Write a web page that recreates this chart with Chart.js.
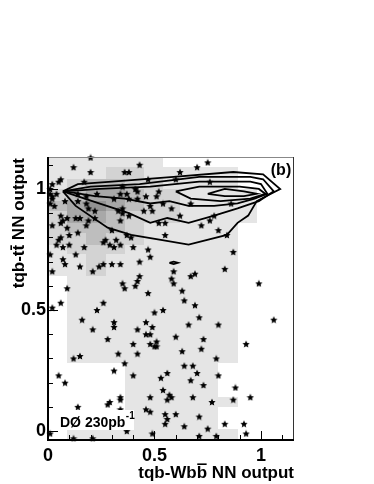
<!DOCTYPE html>
<html>
<head>
<meta charset="utf-8">
<script src="https://cdn.jsdelivr.net/npm/chart.js@4.4.1/dist/chart.umd.min.js"></script>
<style>
  html, body { margin: 0; padding: 0; background: #fff; }
</style>
</head>
<body>
<canvas id="nnChart" width="374" height="484"></canvas>
<script>
// axis ticks
const xMajor = [0, 0.5, 1];
const xTickLabels = ['0', '0.5', '1'];
const yMajor = [0, 0.5, 1];
const yTickLabels = ['0', '0.5', '1'];
const xMinor = [0, 0.1, 0.2, 0.3, 0.4, 0.5, 0.6, 0.7, 0.8, 0.9, 1.0, 1.1];
const yMinor = [0, 0.1, 0.2, 0.3, 0.4, 0.5, 0.6, 0.7, 0.8, 0.9, 1.0, 1.1];

// tqb box histogram (rows listed top to bottom)
const xEdges = [0, 0.09, 0.18, 0.27, 0.36, 0.45, 0.54, 0.62, 0.71, 0.80, 0.89, 0.98, 1.07, 1.16];
const yEdges = [-0.04, 0.01, 0.05, 0.10, 0.14, 0.19, 0.23, 0.28, 0.32, 0.37, 0.41, 0.46, 0.50, 0.55,
  0.59, 0.64, 0.68, 0.73, 0.77, 0.82, 0.86, 0.91, 0.95, 1.00, 1.04, 1.09, 1.13];
const shade = [
  [1,1,1,1,1,1,0,0,0,0,0,0,0],
  [1,1,1,2,2,1,1,1,1,1,0,0,0],
  [1,2,3,3,2,2,1,1,1,1,0,0,0],
  [2,3,4,4,3,2,2,1,1,1,1,0,0],
  [3,4,5,4,3,2,2,1,1,1,1,0,0],
  [2,4,4,3,2,2,2,1,1,1,1,0,0],
  [2,3,3,3,2,1,1,1,1,1,0,0,0],
  [2,2,3,2,2,1,1,1,1,1,0,0,0],
  [1,2,2,2,1,1,1,1,1,1,0,0,0],
  [1,1,2,1,1,1,1,1,1,1,0,0,0],
  [1,1,2,1,1,1,1,1,1,1,0,0,0],
  [0,1,1,1,1,1,1,1,1,1,0,0,0],
  [0,1,1,1,1,1,1,1,1,1,0,0,0],
  [0,1,1,1,1,1,1,1,1,1,0,0,0],
  [0,1,1,1,1,1,1,1,1,1,0,0,0],
  [0,1,1,1,1,1,1,1,1,1,0,0,0],
  [0,1,1,1,1,1,1,1,1,1,0,0,0],
  [0,1,1,1,1,1,1,1,1,1,0,0,0],
  [0,1,1,1,1,1,1,1,1,1,0,0,0],
  [0,0,0,0,1,1,1,1,1,0,0,0,0],
  [0,0,0,0,1,1,1,1,1,0,0,0,0],
  [0,0,0,0,1,1,1,1,1,0,0,0,0],
  [0,0,0,0,1,1,1,1,1,1,0,0,0],
  [0,0,0,0,1,1,1,1,1,0,0,0,0],
  [0,0,0,0,1,1,1,1,1,0,0,0,0],
  [0,1,1,1,1,1,1,1,1,1,0,0,0],
];
const shadeColors = [null, '#e5e5e5', '#d3d3d3', '#bebebe', '#a8a8a8', '#929292'];

// tt contours
const c1X = [0.07,0.14,0.30,0.59,0.87,1.01,1.09,0.98,0.94,0.89,0.84,0.66,0.53,0.39,0.28,0.13];
const c1Y = [0.99,1.02,1.03,1.05,1.07,1.06,1.00,0.95,0.89,0.86,0.81,0.77,0.79,0.81,0.84,0.93];
const c2X = [0.07,0.20,0.43,0.71,0.95,1.01,1.06,0.99,0.89,0.78,0.66,0.56,0.48,0.38,0.24];
const c2Y = [0.99,1.01,1.02,1.05,1.05,1.04,0.99,0.95,0.92,0.89,0.86,0.88,0.86,0.90,0.94];
const c3X = [0.08,0.24,0.48,0.71,0.95,1.00,1.03,0.97,0.89,0.78,0.66,0.57,0.48,0.36,0.22];
const c3Y = [0.99,1.00,1.01,1.03,1.03,1.02,0.98,0.96,0.94,0.93,0.93,0.95,0.94,0.96,0.97];
const c4X = [0.60,0.71,0.90,0.99,1.02,0.95,0.81,0.67];
const c4Y = [0.99,1.01,1.01,1.00,0.98,0.96,0.95,0.96];
const c5X = [0.75,0.83,0.92,0.98,0.92,0.83];
const c5Y = [0.98,1.00,0.99,0.98,0.97,0.97];
const c6X = [0.57,0.59,0.61,0.59];
const c6Y = [0.695,0.70,0.695,0.69];

// data events
const starX = [0.20,0.12,0.20,0.43,0.36,0.38,0.47,0.62,0.70,0.75,0.60,0.76,0.06,0.05,0.17,0.02,0.01,0.01,0.02,0.04,
  0.02,0.01,0.03,0.14,0.18,0.23,0.08,0.14,0.18,0.19,0.22,0.06,0.09,0.13,0.15,0.19,0.22,0.02,0.06,0.07,
  0.09,0.14,0.18,0.10,0.06,0.05,0.04,0.07,0.10,0.17,0.26,0.27,0.01,0.13,0.07,0.08,0.15,0.24,0.26,0.21,0.02,0.09,
  0.35,0.41,0.42,0.31,0.34,0.37,0.38,0.42,0.46,0.52,0.51,0.33,0.35,0.35,0.38,0.45,0.48,0.49,0.54,0.58,
  0.34,0.52,0.55,0.30,0.37,0.55,0.29,0.31,0.32,0.34,0.40,0.39,0.47,0.48,0.30,0.34,0.43,0.59,0.58,0.59,
  0.43,0.42,0.41,0.35,0.36,0.47,
  0.67,0.86,0.78,0.62,0.76,0.72,0.80,0.84,0.87,0.67,0.69,0.83,0.63,0.99,
  0.02,0.06,0.16,0.23,0.26,0.21,0.28,0.12,0.15,0.05,0.08,0.14,0.11,0.28,0.29,0.01,0.12,0.21,
  0.50,0.54,0.31,0.31,0.42,0.46,0.49,0.46,0.48,0.40,0.48,0.51,0.50,0.51,0.33,0.42,0.36,0.31,0.40,0.53,
  0.56,0.54,0.57,0.56,0.58,0.34,0.34,0.48,0.34,0.46,0.48,0.55,0.56,0.55,0.37,0.49,
  0.64,0.69,0.71,0.66,0.80,0.60,0.73,0.72,0.63,0.79,0.64,0.68,0.70,0.67,0.80,0.73,0.88,
  0.68,0.77,0.87,0.60,0.71,0.83,0.64,0.75,0.71,0.79,1.06,0.93,0.95,0.92,0.93];
const starY = [1.13,1.09,1.07,1.10,1.07,1.07,1.04,1.07,1.09,1.11,1.04,1.03,1.04,1.03,1.03,1.02,1.00,0.98,0.97,0.98,
  0.96,0.94,0.93,0.98,0.97,0.98,0.95,0.95,0.94,0.92,0.91,0.89,0.88,0.88,0.88,0.87,0.88,0.85,0.86,0.87,
  0.84,0.82,0.85,0.81,0.80,0.79,0.77,0.76,0.77,0.76,0.78,0.79,0.73,0.73,0.71,0.69,0.68,0.68,0.69,0.66,0.66,0.59,
  1.01,1.00,0.99,0.96,0.98,0.98,0.96,0.96,0.97,0.99,0.97,0.91,0.92,0.90,0.89,0.91,0.93,0.91,0.94,0.92,
  0.87,0.86,0.86,0.83,0.81,0.81,0.77,0.76,0.79,0.77,0.76,0.80,0.75,0.72,0.69,0.69,0.70,0.66,0.63,0.61,
  0.64,0.62,0.60,0.61,0.59,0.57,
  0.94,0.94,0.89,0.89,0.87,0.85,0.83,0.81,0.74,0.64,0.65,0.67,0.58,0.61,
  0.51,0.53,0.46,0.50,0.53,0.42,0.38,0.30,0.31,0.23,0.20,0.10,0.07,0.11,0.12,-0.01,-0.03,-0.03,
  0.49,0.50,0.45,0.43,0.42,0.45,0.43,0.40,0.40,0.36,0.36,0.37,0.35,0.35,0.32,0.32,0.28,0.25,0.23,0.22,
  0.24,0.17,0.15,0.13,0.14,0.14,0.13,0.14,0.09,0.09,0.08,0.07,0.05,0.03,0.00,-0.01,
  0.54,0.52,0.47,0.44,0.44,0.39,0.38,0.34,0.33,0.30,0.27,0.27,0.24,0.21,0.23,0.19,0.18,
  0.14,0.12,0.13,0.07,0.06,0.03,0.02,0.01,-0.02,-0.02,0.46,0.36,0.14,0.03,-0.01];

const FONT = '"Liberation Sans", Arial, Helvetica, sans-serif';

function makeStar(size) {
  const c = document.createElement('canvas');
  c.width = c.height = size;
  const g = c.getContext('2d');
  const r = size / 2, ri = r * 0.45;
  g.beginPath();
  for (let k = 0; k < 10; k++) {
    const rad = k % 2 ? ri : r - 0.2;
    const ang = -Math.PI / 2 + k * Math.PI / 5;
    g.lineTo(r + rad * Math.cos(ang), r + 0.4 + rad * Math.sin(ang));
  }
  g.closePath();
  g.fillStyle = '#000';
  g.fill();
  return c;
}

const closed = (xs, ys) => xs.concat(xs[0]).map((x, i) => ({ x, y: ys.concat(ys[0])[i] }));
const contour = (xs, ys) => ({
  data: closed(xs, ys), showLine: true, pointRadius: 0, borderColor: '#000',
  borderWidth: 1.8, fill: false, tension: 0,
});
const tickLabel = (v, major, labels) => {
  const k = major.findIndex(m => Math.abs(m - v) < 1e-6);
  return k < 0 ? '' : labels[k];
};

// text with an overbar on one letter
function barredText(ctx, pre, letter, post, x, y, align) {
  const wPre = ctx.measureText(pre).width, wL = ctx.measureText(letter).width;
  const total = wPre + wL + ctx.measureText(post).width;
  const x0 = align === 'right' ? x - total : x;
  ctx.textAlign = 'left';
  ctx.fillText(pre + letter + post, x0, y);
  const asc = ctx.measureText(letter).actualBoundingBoxAscent;
  ctx.lineWidth = 1.6;
  ctx.beginPath();
  ctx.moveTo(x0 + wPre + 0.5, y - asc - 1.8);
  ctx.lineTo(x0 + wPre + wL - 0.5, y - asc - 1.8);
  ctx.stroke();
}

const decor = {
  id: 'decor',
  beforeDatasetsDraw(chart) {
    const { ctx, chartArea: a, scales: { x, y } } = chart;
    ctx.save();
    ctx.beginPath();
    ctx.rect(a.left, a.top, a.right - a.left, a.bottom - a.top);
    ctx.clip();
    shade.forEach((row, r) => {
      const j = shade.length - 1 - r;
      row.forEach((lvl, i) => {
        if (!lvl) return;
        const x0 = Math.round(x.getPixelForValue(xEdges[i])), x1 = Math.round(x.getPixelForValue(xEdges[i + 1]));
        const y0 = Math.round(y.getPixelForValue(yEdges[j + 1])), y1 = Math.round(y.getPixelForValue(yEdges[j]));
        ctx.fillStyle = shadeColors[lvl];
        ctx.fillRect(x0, y0, x1 - x0, y1 - y0);
      });
    });
    ctx.restore();
  },
  afterDatasetsDraw(chart) {
    const { ctx, chartArea: a } = chart;
    ctx.save();
    ctx.fillStyle = '#fff';
    ctx.fillRect(58, 410, 76, 20);
    ctx.fillStyle = '#000';
    ctx.font = `bold 14px ${FONT}`;
    ctx.textAlign = 'left';
    ctx.textBaseline = 'alphabetic';
    const main = 'DØ 230pb';
    ctx.fillText(main, 60, 427);
    const w = ctx.measureText(main).width;
    ctx.font = `bold 10px ${FONT}`;
    ctx.fillText('-1', 60 + w + 0.5, 419);
    ctx.font = `bold 16px ${FONT}`;
    ctx.textAlign = 'center';
    ctx.fillText('(b)', a.right - 13, a.top + 18);
    ctx.restore();
  },
  afterDraw(chart) {
    const { ctx, chartArea: a, scales: { x, y } } = chart;
    ctx.save();
    ctx.strokeStyle = '#000';
    ctx.lineWidth = 1;
    xMinor.forEach(v => {
      const p = Math.round(x.getPixelForValue(v)) + 0.5;
      const len = xMajor.some(m => Math.abs(m - v) < 1e-6) ? 9 : 5;
      ctx.beginPath(); ctx.moveTo(p, a.bottom); ctx.lineTo(p, a.bottom - len); ctx.stroke();
    });
    yMinor.forEach(v => {
      const p = Math.round(y.getPixelForValue(v)) + 0.5;
      const len = yMajor.some(m => Math.abs(m - v) < 1e-6) ? 10 : 5;
      ctx.beginPath(); ctx.moveTo(a.left, p); ctx.lineTo(a.left + len, p); ctx.stroke();
    });
    // frame
    ctx.strokeStyle = '#888';
    ctx.beginPath(); ctx.moveTo(a.left, a.top + 0.5); ctx.lineTo(a.right, a.top + 0.5); ctx.stroke();
    ctx.strokeStyle = '#333';
    ctx.beginPath(); ctx.moveTo(a.right - 0.5, a.top); ctx.lineTo(a.right - 0.5, a.bottom); ctx.stroke();
    ctx.strokeStyle = '#000';
    ctx.lineWidth = 2;
    ctx.beginPath(); ctx.moveTo(a.left, a.top); ctx.lineTo(a.left, a.bottom); ctx.lineTo(a.right, a.bottom); ctx.stroke();
    // axis titles
    ctx.fillStyle = '#000';
    ctx.strokeStyle = '#000';
    ctx.font = `bold 17px ${FONT}`;
    ctx.textBaseline = 'alphabetic';
    barredText(ctx, 'tqb-Wb', 'b', ' NN output', a.right, 478, 'right');
    ctx.translate(24, a.top + 1);
    ctx.rotate(-Math.PI / 2);
    barredText(ctx, 'tqb-t', 't', ' NN output', 0, 0, 'right');
    ctx.restore();
  },
};

const starImg = makeStar(8);

new Chart(document.getElementById('nnChart'), {
  type: 'scatter',
  data: {
    datasets: [
      { data: starX.map((v, i) => ({ x: v, y: starY[i] })), pointStyle: starImg, clip: false },
      contour(c1X, c1Y), contour(c2X, c2Y), contour(c3X, c3Y),
      contour(c4X, c4Y), contour(c5X, c5Y), contour(c6X, c6Y),
    ],
  },
  options: {
    responsive: false, animation: false, devicePixelRatio: 1,
    layout: { padding: { top: 157, right: 80, left: 0, bottom: 0 } },
    plugins: { legend: { display: false }, tooltip: { enabled: false } },
    scales: {
      x: {
        type: 'linear', min: 0, max: 1.155,
        grid: { display: false, drawTicks: false }, border: { display: false },
        afterBuildTicks: s => { s.ticks = xMinor.map(v => ({ value: v })); },
        afterFit: s => { s.height = 44; },
        ticks: {
          autoSkip: false, maxRotation: 0, padding: 5, color: '#000',
          font: { family: FONT, size: 18, weight: 'bold' },
          callback: v => tickLabel(v, xMajor, xTickLabels),
        },
      },
      y: {
        type: 'linear', min: -0.037, max: 1.132,
        grid: { display: false, drawTicks: false }, border: { display: false },
        afterBuildTicks: s => { s.ticks = yMinor.map(v => ({ value: v })); },
        afterFit: s => { s.width = 48; },
        ticks: {
          autoSkip: false, padding: 2, color: '#000',
          font: { family: FONT, size: 18, weight: 'bold' },
          callback: v => tickLabel(v, yMajor, yTickLabels),
        },
      },
    },
  },
  plugins: [decor],
});
</script>
</body>
</html>
